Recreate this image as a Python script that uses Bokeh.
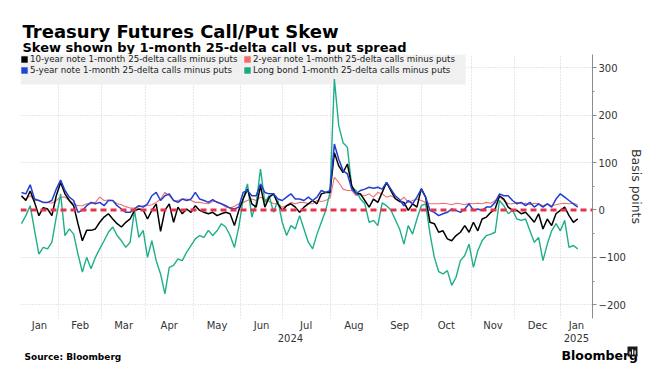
import numpy as np
import pandas as pd
from bokeh.plotting import figure
from bokeh.models import (Range1d, LinearAxis, FixedTicker, SingleIntervalTicker, Span,
                          Legend, LegendItem, BoxAnnotation, Grid)
from bokeh.core.properties import value
from bokeh.embed import file_html
from bokeh.resources import INLINE

# ---------------- data (basis points, sampled every 2nd trading day from 2024-01-08) -------------
holidays = ["2024-01-15", "2024-02-19", "2024-03-29", "2024-05-27", "2024-06-19", "2024-07-04",
            "2024-09-02", "2024-11-28", "2024-12-25", "2025-01-01", "2025-01-09"]
first_day = "2024-01-08"
last_day = "2025-01-31"
sample_step = 2

ten_year = [30, 20, 40, 16, -12, 5, 2, -12, 30, 58, 34, 20, 9, -29, -65, -43, -43, -40, -26, -15,
            -8, -19, -29, -36, -26, -19, -1, 2, 0, -19, -1, 13, -45, -1, 13, -26, 6, -8, 2, -5,
            9, -1, -5, -8,
            -5, -12, -8, -5, -8, -33, -1, 23, 44, 13, 6, 51, 6, 27, 34, 13, -1, 9, 13, 6,
            -5, 6, 13, 20, 13, 34, 37, 37, 121, 93, 79, 97, 51, 34, 34, 20, 6, 23, 16, 37, 58, 41,
            24, 18, 16, -1, 13, 6, 45, 27, -26, -29, -47, -44, -61, -65, -54, -47, -33, -47, -26, -44,
            -19, -15, -5, 2, 30, 23, 6, -1, -1, -8, -5, -15, -26, -8, -40, -19, -33, -8, -1, 6,
            -12, -26, -19]
two_year = [27, 23, 30, 20, 20, 16, 16, 14, 20, 27, 27, 20, 13, 9, 9, 13, 13, 16, 27, 20,
            21, 20, 13, 11, 7, 4, 4, 7, 9, 9, 11, 16, 23, 37, 30, 20, 20, 23, 23, 20,
            16, 16, 14, 13,
            18, 18, 13, 6, 4, 8, 13, 16, 20, 23, 20, 27, 23, 18, 13, 13, 6, 9, 16, 13,
            16, 16, 13, 13, 20, 18, 20, 25, 69, 58, 44, 41, 41, 30, 32, 30, 34, 27, 37, 34, 27, 30,
            25, 18, 27, 16, 20, 23, 20, 16, 13, 13, 13, 14, 13, 11, 14, 13, 11, 14, 13, 14,
            13, 16, 14, 20, 27, 20, 13, 13, 16, 13, 14, 11, 14, 13, 9, 13, 9, 11, 13, 14,
            13, 14, 11]
five_year = [37, 34, 53, 23, 20, 16, 16, 20, 44, 63, 41, 27, 20, -5, -1, 9, 16, 13, 16, 9,
             20, 20, 9, 2, -5, -5, 2, 9, 6, 13, 30, 37, 20, 30, 34, 20, 16, 23, 20, 23,
             37, 23, 20, 16,
             22, 16, 13, 9, 4, 2, 6, 37, 41, 30, 30, 55, 37, 34, 34, 23, 20, 27, 34, 23,
             23, 20, 27, 20, 27, 41, 37, 41, 139, 107, 83, 76, 44, 34, 41, 44, 48, 46, 48, 44, 58, 44,
             30, 22, 9, 20, 13, 27, 44, 27, -1, -5, -12, -8, -5, 2, -1, -5, 2, 13, -1, 2,
             -1, 6, 6, 16, 34, 30, 30, 20, 13, 16, 9, 16, 6, 13, 6, 13, 6, 23, 34, 27,
             20, 13, 6]
long_bond = [-29, -12, 9, -43, -93, -79, -82, -68, -15, 34, -54, -40, -51, -93, -131, -100, -124, -100, -82, -65,
             -47, -36, -54, -65, -79, -68, -1, -58, -43, -100, -65, -107, -135, -177, -121, -117, -103, -107, -89, -75,
             -61, -54, -58, -43,
             -54, -44, -29, -36, -54, -79, -36, 23, 55, -15, 13, 86, 16, 30, -5, 20, -26, -54, -33, -40,
             -12, -40, -68, -82, -51, -26, -1, 37, 276, 178, 142, 132, 48, 41, 23, 13, -26, -22, -33, 15, 9, 0,
             -20, -40, -72, -33, -51, -19, 9, 13, -50, -100, -130, -135, -128, -159, -142, -107, -96, -72, -121, -86,
             -65, -54, -51, -47, 20, 9, -8, -1, -19, -22, -19, -44, -68, -58, -107, -72, -44, -29, -44, -22,
             -79, -75, -82]

labels = ["10-year note 1-month 25-delta calls minus puts",
          "2-year note 1-month 25-delta calls minus puts",
          "5-year note 1-month 25-delta calls minus puts",
          "Long bond 1-month 25-delta calls minus puts"]
title_text = "Treasury Futures Call/Put Skew"
subtitle_text = "Skew shown by 1-month 25-delta call vs. put spread"
source_text = "Source: Bloomberg"
brand_text = "Bloomberg"

# ---------------- trading-day axis ----------------
days = pd.bdate_range(first_day, last_day)
days = days[~days.isin(pd.to_datetime(holidays))]
n = len(ten_year)
xs = np.arange(n) * sample_step          # trading-day index of each sample

x_start, x_end = -0.46, 262.8
month_starts = [i for i in range(1, len(days)) if days[i].month != days[i - 1].month and i < x_end]
edges = [x_start] + month_starts + [x_end]
month_centers = [round((edges[j] + edges[j + 1]) / 2, 2) for j in range(len(edges) - 1)]
month_names = [days[0].strftime("%b")] + [days[i].strftime("%b") for i in month_starts]
year_starts = [i for i in month_starts if days[i].month == 1]
yedges = [x_start] + year_starts + [x_end]
year_centers = [round((yedges[j] + yedges[j + 1]) / 2, 2) for j in range(len(yedges) - 1)]
year_names = [str(days[0].year)] + [str(days[i].year) for i in year_starts]

W = 657
FONT = "DejaVu Sans"


def blank(height, y0, y1):
    f = figure(width=W, height=height, output_backend="svg", toolbar_location=None,
               x_range=Range1d(0, W), y_range=Range1d(y1, y0),
               x_axis_location=None, y_axis_location=None,
               min_border_left=0, min_border_right=0, min_border_top=0, min_border_bottom=0)
    f.outline_line_color = None
    f.grid.visible = False
    return f


# ---------------- header ----------------
head = blank(54, 0, 54)
head.text(x=[22], y=[31], text=[title_text], text_font=value(FONT), text_font_size="18px",
          text_font_style="bold", text_color="#000000", text_baseline="alphabetic")
head.text(x=[22], y=[47], text=[subtitle_text], text_font=value(FONT), text_font_size="13px",
          text_font_style="bold", text_color="#000000", text_baseline="alphabetic")

# ---------------- main chart ----------------
p = figure(width=W, height=291, output_backend="svg", toolbar_location=None,
           x_range=Range1d(x_start, x_end), y_range=Range1d(-229, 328),
           x_axis_location=None, y_axis_location=None,
           min_border_left=20, min_border_right=65, min_border_top=0, min_border_bottom=27)
p.outline_line_color = None
p.center = []

grid_color = "#cfcfcf"
p.add_layout(Grid(dimension=0, ticker=FixedTicker(ticks=month_starts), grid_line_color=grid_color,
                  grid_line_dash="1 2", grid_line_width=1))
p.add_layout(Grid(dimension=1, ticker=FixedTicker(ticks=[-200, -100, 100, 200, 300]),
                  grid_line_color=grid_color, grid_line_dash="1 2", grid_line_width=1))

# legend background sits below the lines
p.add_layout(BoxAnnotation(left=0, right=445, top=264, bottom=234,
                           left_units="screen", right_units="screen", top_units="screen", bottom_units="screen",
                           fill_color="#f0f0f0", fill_alpha=1, line_color=None, level="underlay"))

c_black, c_red, c_blue, c_green = "#000000", "#f07070", "#1e3fcf", "#1fae8a"
p.line(xs, two_year, line_color=c_red, line_width=1.1)
p.line(xs, long_bond, line_color=c_green, line_width=1.4)
p.line(xs, ten_year, line_color=c_black, line_width=1.5)
p.line(xs, five_year, line_color=c_blue, line_width=1.5)

p.add_layout(Span(location=0, dimension="width", line_color="#e2354b", line_width=3, line_dash="6 4"))

# legend swatches (area renderers with no visible data)
sq = {}
for key, col in [("k", c_black), ("r", "#f26a6a"), ("b", "#1c44d8"), ("g", "#19a881")]:
    sq[key] = p.quad(left=[np.nan], right=[np.nan], top=[np.nan], bottom=[np.nan],
                     fill_color=col, line_color=None)
legend = Legend(items=[LegendItem(label=labels[0], renderers=[sq["k"]]),
                       LegendItem(label=labels[2], renderers=[sq["b"]]),
                       LegendItem(label=labels[1], renderers=[sq["r"]]),
                       LegendItem(label=labels[3], renderers=[sq["g"]])],
                location="top_left", orientation="vertical", ncols=2,
                background_fill_alpha=0, border_line_color=None,
                label_text_font=FONT, label_text_font_size="8.7px", label_text_color="#222222",
                glyph_width=8, glyph_height=8, label_height=9, spacing=1, padding=6, margin=0,
                label_standoff=2, label_width=212)
p.add_layout(legend)

tick_color = "#333333"
yax = LinearAxis(ticker=SingleIntervalTicker(interval=100, num_minor_ticks=2), axis_label="Basis points",
                 axis_line_color="#8c8c8c", major_tick_line_color="#8c8c8c", minor_tick_line_color="#8c8c8c",
                 major_tick_in=0, major_tick_out=4, minor_tick_in=0, minor_tick_out=2,
                 major_label_standoff=2, axis_label_standoff=0,
                 major_label_text_font=FONT, major_label_text_font_size="10px",
                 major_label_text_color=tick_color,
                 axis_label_text_font=FONT, axis_label_text_font_size="12.5px",
                 axis_label_text_font_style="normal", axis_label_text_color=tick_color)
p.add_layout(yax, "right")

xax = LinearAxis(ticker=FixedTicker(ticks=month_centers),
                 major_label_overrides={c: m for c, m in zip(month_centers, month_names)},
                 axis_line_color=None, major_tick_line_color=None, minor_tick_line_color=None,
                 major_tick_out=0, major_tick_in=0, major_label_standoff=1,
                 major_label_text_font=FONT, major_label_text_font_size="10px",
                 major_label_text_color=tick_color)
p.add_layout(xax, "below")
yrax = LinearAxis(ticker=FixedTicker(ticks=year_centers),
                  major_label_overrides={c: y for c, y in zip(year_centers, year_names)},
                  axis_line_color=None, major_tick_line_color=None, minor_tick_line_color=None,
                  major_tick_out=0, major_tick_in=0, major_label_standoff=0,
                  major_label_text_font=FONT, major_label_text_font_size="10px",
                  major_label_text_color=tick_color)
p.add_layout(yrax, "below")

# ---------------- footer ----------------
foot = blank(32, 345, 377)
foot.text(x=[24], y=[356], text=[source_text], text_font=value(FONT), text_font_size="9px",
          text_font_style="bold", text_color="#000000", text_baseline="alphabetic")
foot.text(x=[561], y=[355], text=[brand_text], text_font=value(FONT), text_font_size="12.5px",
          text_font_style="bold", text_color="#000000", text_baseline="alphabetic")
# small logo mark: dark square with three white bars
foot.quad(left=[627], right=[637], top=[346], bottom=[356], fill_color="#1a1a1a", line_color=None)
foot.quad(left=[629, 631.5, 634], right=[630.2, 632.7, 635.2], top=[351, 349, 350], bottom=[354, 354, 354],
          fill_color="#ffffff", line_color=None)

# three independent roots stacked on the page (no frame alignment between them)
open("out.html", "w").write(file_html([head, p, foot], INLINE))
